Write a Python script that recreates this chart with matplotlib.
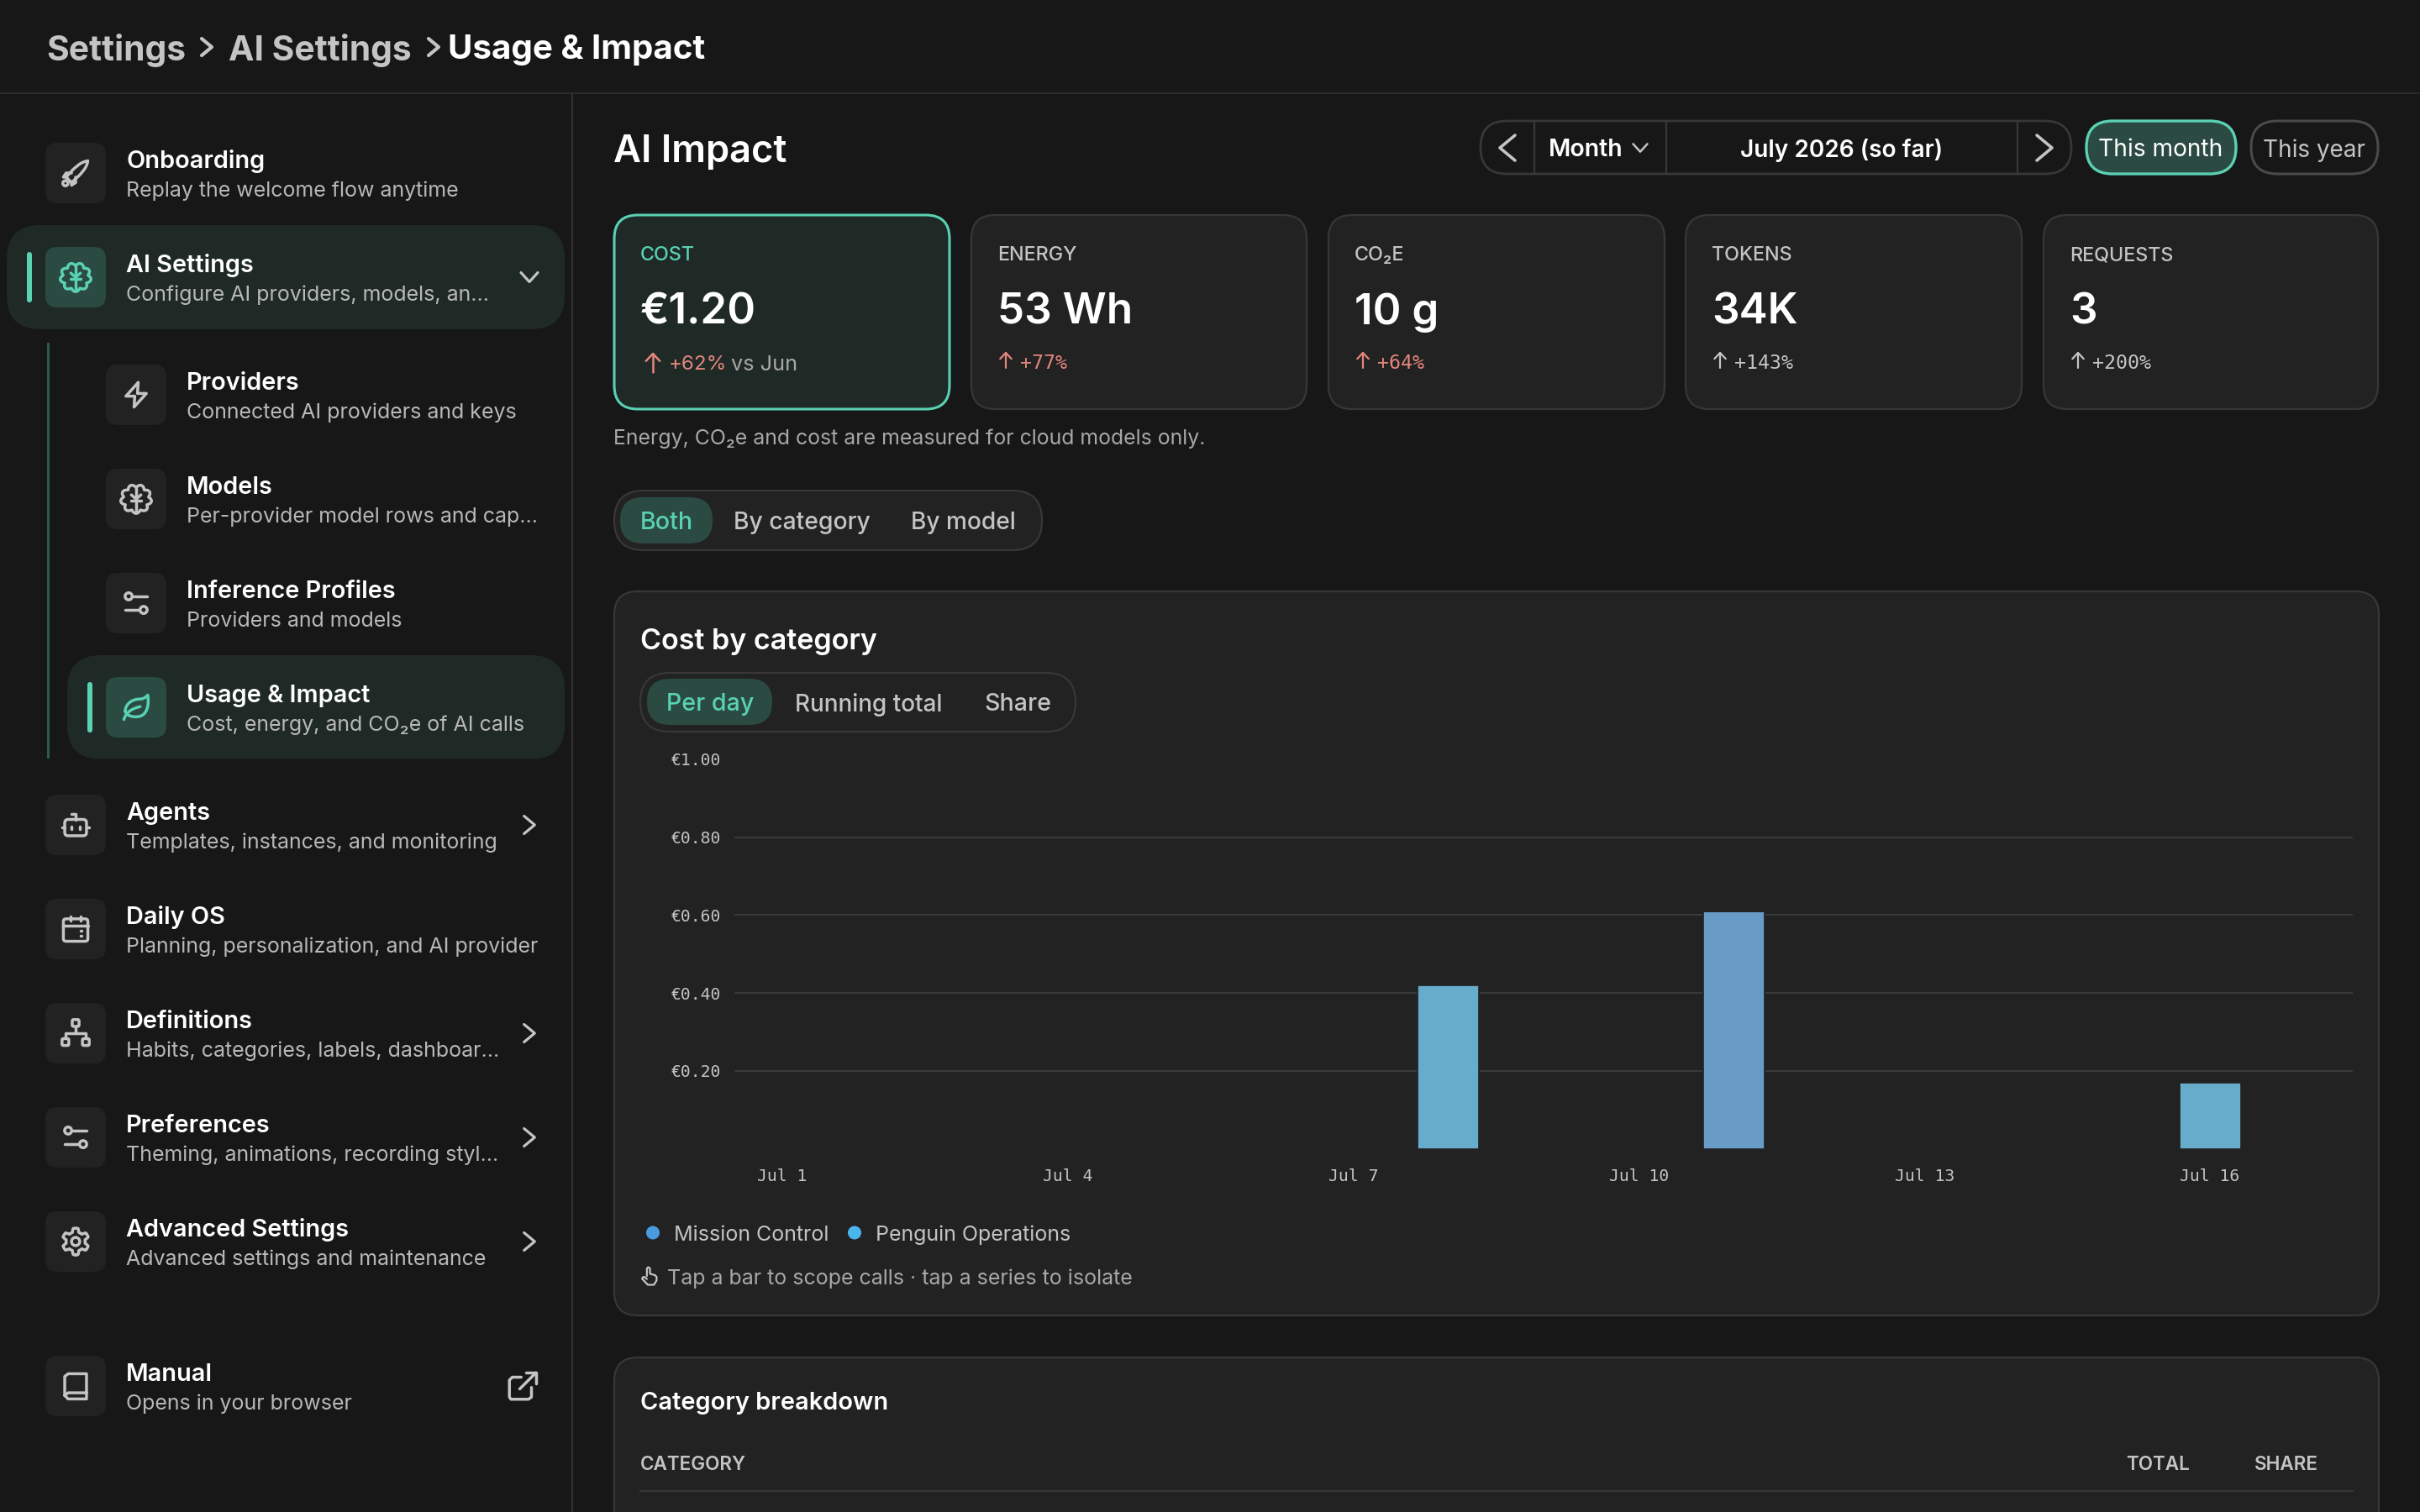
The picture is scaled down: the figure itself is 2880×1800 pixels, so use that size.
import matplotlib
matplotlib.use('Agg')
import matplotlib.pyplot as plt
import numpy as np
from matplotlib.patches import FancyBboxPatch, Circle, Rectangle
from matplotlib.path import Path
from matplotlib.patches import PathPatch

plt.rcParams['font.family'] = ['Inter', 'DejaVu Sans']

# chart data
days = ['Jul ' + str(d) for d in range(1, 18)]
mission_control = [0, 0, 0, 0, 0, 0, 0, 0, 0, 0, 0.61, 0, 0, 0, 0, 0, 0]
penguin_ops = [0, 0, 0, 0, 0, 0, 0, 0.42, 0, 0, 0, 0, 0, 0, 0, 0.17, 0]
y_ticks = [0.2, 0.4, 0.6, 0.8, 1.0]
series_names = ['Mission Control', 'Penguin Operations']

# kpi cards
kpi_labels = ['COST', 'ENERGY', 'CO₂E', 'TOKENS', 'REQUESTS']
kpi_values = ['€1.20', '53 Wh', '10 g', '34K', '3']
kpi_deltas = ['+62%', '+77%', '+64%', '+143%', '+200%']
kpi_x = [(731, 1130), (1156, 1555), (1581, 1981), (2006, 2406), (2432, 2830)]

# sidebar rows: title, subtitle, centre y, icon
side_rows = [
    ('Onboarding', 'Replay the welcome flow anytime', 206, 'rocket', 0),
    ('AI Settings', 'Configure AI providers, models, an...', 330, 'brain', 0),
    ('Providers', 'Connected AI providers and keys', 470, 'bolt', 1),
    ('Models', 'Per-provider model rows and cap...', 594, 'brain', 1),
    ('Inference Profiles', 'Providers and models', 718, 'sliders', 1),
    ('Usage & Impact', 'Cost, energy, and CO₂e of AI calls', 842, 'leaf', 1),
    ('Agents', 'Templates, instances, and monitoring', 982, 'robot', 0),
    ('Daily OS', 'Planning, personalization, and AI provider', 1106, 'calendar', 0),
    ('Definitions', 'Habits, categories, labels, dashboar...', 1230, 'tree', 0),
    ('Preferences', 'Theming, animations, recording styl...', 1354, 'sliders', 0),
    ('Advanced Settings', 'Advanced settings and maintenance', 1478, 'gear', 0),
    ('Manual', 'Opens in your browser', 1650, 'book', 0),
]

BG = '#171717'
CARD = '#222222'
BORDER = '#373737'
GREEN = '#5ad1b3'
GREEN_BG = '#1f2a27'
GREEN_ICON = '#2a4a42'
GREY = '#c4c4c4'
DIM = '#a8a8a8'
MONO = ['DejaVu Sans Mono', 'Liberation Mono']

fig = plt.figure(figsize=(14.4, 9), dpi=200, facecolor=BG)
ui = fig.add_axes([0, 0, 1, 1])
ui.set_xlim(0, 2880)
ui.set_ylim(1800, 0)
ui.axis('off')


def box(x0, y0, x1, y1, r, fc='none', ec='none', lw=0.0, z=1):
    p = FancyBboxPatch((x0 + r, y0 + r), x1 - x0 - 2 * r, y1 - y0 - 2 * r,
                       boxstyle='round,pad=%f,rounding_size=%f' % (r, r),
                       fc=fc, ec=ec, lw=lw, zorder=z)
    ui.add_patch(p)


def txt(x, y, s, size, color='white', weight='normal', ha='left', family=None):
    kw = {}
    if family:
        kw['family'] = family
    ui.text(x, y, s, fontsize=size, color=color, fontweight=weight, ha=ha,
            va='center_baseline', zorder=5, **kw)


def stroke(pts, cx, cy, s, color, lw=1.0, close=False):
    # pts in 24-unit icon space
    a = np.array(pts, dtype=float)
    xs = cx + (a[:, 0] - 12) * s
    ys = cy + (a[:, 1] - 12) * s
    if close:
        xs = np.append(xs, xs[0])
        ys = np.append(ys, ys[0])
    ui.plot(xs, ys, color=color, lw=lw, solid_capstyle='round',
            solid_joinstyle='round', zorder=4)


def ring(x, y, r, cx, cy, s, color, lw=1.0):
    ui.add_patch(Circle((cx + (x - 12) * s, cy + (y - 12) * s), r * s, fc='none',
                        ec=color, lw=lw, zorder=4))


def rbox(x0, y0, x1, y1, r, cx, cy, s, color, lw=1.0):
    box(cx + (x0 - 12) * s, cy + (y0 - 12) * s, cx + (x1 - 12) * s, cy + (y1 - 12) * s,
        r * s, ec=color, lw=lw, z=4)


def curve(verts, cx, cy, s, color, lw=1.0):
    # cubic path: first point then triples
    v = [(cx + (a - 12) * s, cy + (b - 12) * s) for a, b in verts]
    codes = [Path.MOVETO] + [Path.CURVE4] * (len(v) - 1)
    ui.add_patch(PathPatch(Path(v, codes), fc='none', ec=color, lw=lw,
                           capstyle='round', joinstyle='round', zorder=4))


def icon(kind, cx, cy, color):
    s = 1.62
    lw = 1.25
    if kind == 'rocket':
        curve([(5, 15), (7, 13), (10, 9), (13, 7), (15, 5), (18, 3.5), (21, 3),
               (20.5, 6), (19, 9), (17, 11), (15, 14), (11, 17), (9, 19)], cx, cy, s, color, lw)
        stroke([(5, 15), (9, 19)], cx, cy, s, color, lw)
        stroke([(9, 12), (5, 12), (3, 15), (5, 15)], cx, cy, s, color, lw)
        stroke([(12, 15), (12, 19), (9, 21), (9, 19)], cx, cy, s, color, lw)
        ring(4.5, 19.5, 1.9, cx, cy, s, color, lw)
    elif kind == 'brain':
        th = np.linspace(0, 2 * np.pi, 121)
        r = 0.8 + 0.2 * np.abs(np.sin(4.5 * th))
        stroke(list(zip(12 + 11.4 * r * np.cos(th - np.pi / 2), 12 + 10.6 * r * np.sin(th - np.pi / 2))),
               cx, cy, s, color, lw)
        stroke([(12, 4), (12, 21)], cx, cy, s, color, lw)
        stroke([(8, 13), (16, 13)], cx, cy, s, color, lw)
        stroke([(8.5, 9), (12, 12), (15.5, 9)], cx, cy, s, color, lw)
    elif kind == 'bolt':
        stroke([(13.5, 3), (4.5, 13), (11, 13), (10.5, 21), (19.5, 11), (13, 11)], cx, cy, s, color, lw, close=True)
    elif kind == 'sliders':
        stroke([(10, 7), (20, 7)], cx, cy, s, color, lw)
        stroke([(4, 17), (14, 17)], cx, cy, s, color, lw)
        ring(6.5, 7, 2.6, cx, cy, s, color, lw)
        ring(17.5, 17, 2.6, cx, cy, s, color, lw)
    elif kind == 'leaf':
        curve([(4, 15), (4, 9), (10, 6), (14, 6), (17, 6), (19, 5), (20.5, 3),
               (21.5, 9), (21, 19), (12, 19), (8, 19), (5.5, 18), (4, 15)], cx, cy, s, color, lw)
        curve([(3, 21), (5, 15), (9, 13), (15, 11.5)], cx, cy, s, color, lw)
    elif kind == 'robot':
        rbox(4, 8, 20, 20, 2.5, cx, cy, s, color, lw)
        stroke([(12, 8), (12, 4), (9, 4)], cx, cy, s, color, lw)
        stroke([(2, 14), (4, 14)], cx, cy, s, color, lw)
        stroke([(20, 14), (22, 14)], cx, cy, s, color, lw)
        stroke([(9, 13), (9, 15)], cx, cy, s, color, lw)
        stroke([(15, 13), (15, 15)], cx, cy, s, color, lw)
    elif kind == 'calendar':
        rbox(3, 4.5, 21, 21, 2, cx, cy, s, color, lw)
        stroke([(3, 9.5), (21, 9.5)], cx, cy, s, color, lw)
        stroke([(8, 2.5), (8, 6)], cx, cy, s, color, lw)
        stroke([(16, 2.5), (16, 6)], cx, cy, s, color, lw)
        for yy in (13, 17):
            for xx in (8, 12, 16):
                stroke([(xx, yy), (xx + 0.3, yy)], cx, cy, s, color, lw)
    elif kind == 'tree':
        rbox(9.5, 2, 14.5, 7, 1, cx, cy, s, color, lw)
        rbox(2, 16, 7, 21, 1, cx, cy, s, color, lw)
        rbox(17, 16, 22, 21, 1, cx, cy, s, color, lw)
        stroke([(12, 7), (12, 12)], cx, cy, s, color, lw)
        stroke([(4.5, 16), (4.5, 12), (19.5, 12), (19.5, 16)], cx, cy, s, color, lw)
    elif kind == 'gear':
        th = np.linspace(0, 2 * np.pi, 145)
        r = 8.4 + 2.0 * np.clip(np.cos(6 * th) * 2.2, -1, 1) * 0.7
        stroke(list(zip(12 + r * np.sin(th), 12 + r * np.cos(th))), cx, cy, s, color, lw)
        ring(12, 12, 3, cx, cy, s, color, lw)
    elif kind == 'book':
        stroke([(4, 19), (4, 5), (6.5, 3), (20, 3), (20, 21.5), (6.5, 21.5), (4, 19), (6.5, 17), (20, 17)],
               cx, cy, s, color, lw)


def chev(x, y, direction, color, size=7.0, lw=1.15):
    if direction == 'r':
        pts = [(x - size * 0.6, y - size), (x + size * 0.6, y), (x - size * 0.6, y + size)]
    elif direction == 'l':
        pts = [(x + size * 0.6, y - size), (x - size * 0.6, y), (x + size * 0.6, y + size)]
    else:
        pts = [(x - size, y - size * 0.55), (x, y + size * 0.55), (x + size, y - size * 0.55)]
    a = np.array(pts)
    ui.plot(a[:, 0], a[:, 1], color=color, lw=lw, solid_capstyle='round', solid_joinstyle='round', zorder=5)


def up_arrow(x, y, h, color, lw=0.9):
    ui.plot([x, x], [y - h, y + h], color=color, lw=lw, solid_capstyle='round', zorder=5)
    ui.plot([x - h * 0.75, x, x + h * 0.75], [y - h * 0.2, y - h, y - h * 0.2], color=color, lw=lw,
            solid_capstyle='round', solid_joinstyle='round', zorder=5)


# top bar and sidebar frame
ui.plot([0, 2880], [111, 111], color='#303030', lw=0.6, zorder=2)
ui.plot([681, 681], [111, 1800], color='#303030', lw=0.8, zorder=2)
txt(55, 56, 'Settings', 14.7, GREY, 'bold')
chev(246, 56, 'r', GREY, 10, 1.5)
txt(272, 56, 'AI Settings', 14.7, GREY, 'bold')
chev(516, 56, 'r', GREY, 10, 1.5)
txt(533, 56, 'Usage & Impact', 14.5, 'white', 'bold')

# sidebar
box(8, 268, 672, 392, 40, fc=GREEN_BG, z=1)
box(80, 780, 672, 903.5, 40, fc=GREEN_BG, z=1)
ui.add_patch(Rectangle((56, 408), 3, 495, fc='#2c5a4e', ec='none', zorder=2))
for title, sub, cy, ic, nested in side_rows:
    active = title in ('AI Settings', 'Usage & Impact')
    cx = 162 if nested else 90
    tx = 222 if nested else 150
    box(cx - 36, cy - 36, cx + 36, cy + 36, 14, fc=GREEN_ICON if active else '#222222', z=2)
    if active:
        box(cx - 58, cy - 30, cx - 52, cy + 30, 3, fc=GREEN, z=3)
    icon(ic, cx, cy, GREEN if active else GREY)
    txt(tx, cy - 17, title, 10.4, 'white', 'semibold')
    txt(tx, cy + 19, sub, 9.0, '#b8b8b8')
chev(630, 330, 'd', GREY, 10, 1.15)
for cy in (982, 1230, 1354, 1478):
    chev(630, cy, 'r', GREY, 10.5, 1.15)
# external link icon
stroke([(18, 13), (18, 19.5), (16, 21), (4, 21), (3, 19.5), (3, 8), (5, 6), (11, 6)], 622, 1650, 1.75, GREY, 1.25)
stroke([(14, 3), (21, 3), (21, 10)], 622, 1650, 1.75, GREY, 1.25)
stroke([(10, 14), (21, 3)], 622, 1650, 1.75, GREY, 1.25)

# header of main area
txt(730, 176, 'AI Impact', 16.3, 'white', 'semibold')
box(1762, 144, 2465, 207, 31, ec=BORDER, lw=1.0, fc=BG)
for xd in (1826, 1983, 2401):
    ui.plot([xd, xd], [144, 207], color=BORDER, lw=0.8, zorder=2)
chev(1794, 176, 'l', GREY, 15, 1.3)
chev(2433, 176, 'r', GREY, 15, 1.3)
txt(1843, 176, 'Month', 10.25, 'white', 'semibold')
chev(1952, 176, 'd', GREY, 8.5, 0.9)
txt(2192, 176, 'July 2026 (so far)', 10.1, 'white', 'semibold', ha='center')
box(2483, 144, 2661, 207, 31, fc=GREEN_ICON, ec=GREEN, lw=1.2)
txt(2571, 176, 'This month', 10.15, 'white', ha='center')
box(2679, 144, 2830, 207, 31, ec='#4a4a4a', lw=1.1)
txt(2754, 176, 'This year', 10.05, GREY, ha='center')

# kpi cards
for i, (x0, x1) in enumerate(kpi_x):
    hot = i == 0
    box(x0, 256, x1, 487, 28, fc=GREEN_BG if hot else CARD, ec=GREEN if hot else BORDER, lw=1.1 if hot else 0.8)
    tx = x0 + 31
    txt(tx, 302, kpi_labels[i], 8.4, GREEN if hot else GREY, 'medium')
    txt(tx, 367, kpi_values[i], 18.4, 'white', 'semibold')
    col = '#e5867d' if i < 3 else GREY
    if hot:
        up_arrow(tx + 15, 432, 11, col)
        txt(tx + 34, 432, kpi_deltas[i], 8.7, col)
        txt(tx + 108, 432, 'vs Jun', 9.1, DIM)
    else:
        up_arrow(tx + 10, 429, 9, col, 0.8)
        txt(tx + 27, 430, kpi_deltas[i], 8.4, col, family=MONO)

txt(730, 520, 'Energy, CO₂e and cost are measured for cloud models only.', 8.95, DIM)

# scope switch
box(731, 584, 1240, 655, 35, fc=CARD, ec=BORDER, lw=0.8)
box(738, 592, 848, 647, 27, fc=GREEN_ICON)
txt(762, 620, 'Both', 10.3, GREEN, 'medium')
txt(873, 620, 'By category', 10.2, GREY, 'medium')
txt(1084, 620, 'By model', 10.1, GREY, 'medium')

# chart card
box(731, 704, 2831, 1566, 28, fc=CARD, ec=BORDER, lw=0.8)
txt(762, 760, 'Cost by category', 12.25, 'white', 'semibold')
box(762, 801, 1280, 871, 35, fc=CARD, ec=BORDER, lw=0.8)
box(770, 808, 919, 863, 27, fc=GREEN_ICON)
txt(793, 836, 'Per day', 10.3, GREEN, 'medium')
txt(946, 836, 'Running total', 10.05, GREY, 'medium')
txt(1171, 836, 'Share', 10.3, GREY, 'medium')

# legend and hint
ui.add_patch(Circle((777, 1467.5), 8, fc='#4a9ae0', ec='none', zorder=4))
txt(802, 1468, series_names[0], 9.0, GREY)
ui.add_patch(Circle((1017, 1467.5), 8, fc='#4bb5ee', ec='none', zorder=4))
txt(1042, 1468, series_names[1], 9.0, GREY)
# little hand
stroke([(9, 12), (9, 3.5), (10.5, 2), (12.5, 3.5), (12.5, 9.5), (18, 11), (20, 13), (20, 17), (17, 22), (10, 22),
        (3.5, 15), (5, 13), (7, 13.5), (9, 15.5)], 773, 1519, 1.05, GREY, 0.8)
txt(794, 1520, 'Tap a bar to scope calls · tap a series to isolate', 9.0, DIM)

# breakdown card, runs off the bottom
box(731, 1616, 2831, 1860, 28, fc=CARD, ec=BORDER, lw=0.8)
txt(762, 1668, 'Category breakdown', 10.45, 'white', 'semibold')
txt(762, 1741, 'CATEGORY', 8.1, GREY, 'semibold')
txt(2606, 1741, 'TOTAL', 8.1, GREY, 'semibold', ha='right')
txt(2759, 1741, 'SHARE', 8.1, GREY, 'semibold', ha='right')
ui.plot([762, 2800], [1774.5, 1774.5], color=BORDER, lw=0.8, zorder=2)

# the bar chart itself
ax = fig.add_axes([874 / 2880, 1 - 1367.5 / 1800, (2800 - 874) / 2880, 463.5 / 1800])
ax.patch.set_alpha(0)
x = np.arange(len(days))
ax.bar(x, mission_control, width=0.645, color='#689bc6', edgecolor=CARD, linewidth=0.6, zorder=3,
       label=series_names[0])
ax.bar(x, penguin_ops, bottom=mission_control, width=0.645, color='#67accb', edgecolor=CARD, linewidth=0.6, zorder=3,
       label=series_names[1])
ax.set_xlim(-0.5, len(days) - 0.5)
ax.set_ylim(0, 1.0)
ax.set_yticks(y_ticks)
ax.set_yticklabels(['€%.2f' % v for v in y_ticks])
ax.set_xticks(x[::3])
ax.set_xticklabels(days[::3])
ax.grid(axis='y', color='#3a3a3a', lw=0.7, zorder=1)
ax.yaxis.get_gridlines()[-1].set_visible(False)
for sp in ax.spines.values():
    sp.set_visible(False)
ax.tick_params(length=0, colors=GREY, labelsize=7.1)
ax.tick_params(axis='y', pad=5.8)
ax.tick_params(axis='x', pad=8.6)
for lab in ax.get_xticklabels() + ax.get_yticklabels():
    lab.set_family(MONO)

fig.savefig('out.png', dpi=200, facecolor=BG)
